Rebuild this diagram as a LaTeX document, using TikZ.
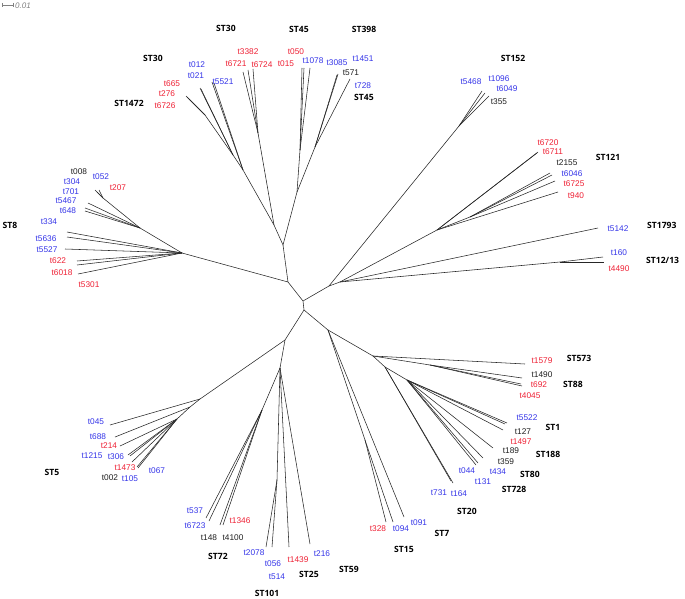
\documentclass[tikz,border=0pt]{standalone}
\usepackage{fontspec}
\setmainfont{Liberation Sans}
\newfontfamily\stfont{Open Sans}
\usepackage{tikz}
\usetikzlibrary{positioning,calc}
\definecolor{tipred}{RGB}{238,32,52}
\definecolor{tipblue}{RGB}{52,52,232}
\definecolor{tipblack}{RGB}{30,30,30}

\begin{document}
\begin{tikzpicture}[x=1pt, y=-1pt,
    branch/.style={draw=black!85, line width=0.55pt},
    tip/.style={inner sep=0pt, font=\fontsize{8.3}{9}\selectfont},
    redtip/.style={tip, text=tipred},
    bluetip/.style={tip, text=tipblue},
    blacktip/.style={tip, text=tipblack},
    st/.style={inner sep=0pt, font=\stfont\bfseries\fontsize{8.6}{9}\selectfont}]

\useasboundingbox (0,0) rectangle (685,599);

% scale bar
\coordinate (sb1) at (2,5);
\coordinate (sb2) at (13,5);
\draw[gray, line width=0.5pt] (sb1) -- (sb2);
\draw[gray, line width=0.5pt] ($(sb1)+(0,-2)$) -- ($(sb1)+(0,2)$);
\draw[gray, line width=0.5pt] ($(sb2)+(0,-2)$) -- ($(sb2)+(0,2)$);
\node[tip, text=gray, font=\itshape\fontsize{8}{9}\selectfont, anchor=west] (sbl) at (15,6) {0.01};

% internal nodes
\coordinate (c0) at (283,245);
\coordinate (c1) at (288,282);
\coordinate (c2) at (303,301);
\coordinate (c3) at (304,310);
\coordinate (jL) at (274,225);
\coordinate (jR) at (297,192);
\coordinate (j30) at (258,133);
\coordinate (j1472) at (243,170);
\coordinate (j1472b) at (233,155);
\coordinate (j1472c) at (205,115);
\coordinate (j45) at (300,150);
\coordinate (j398) at (315,147);
\coordinate (j8) at (182,253);
\coordinate (j8b) at (140,228);
\coordinate (j8c) at (103,198);
\coordinate (j152a) at (329,286);
\coordinate (j152) at (459,126);
\coordinate (j121) at (340,282);
\coordinate (j121a) at (437,230);
\coordinate (j121b) at (470,217);
\coordinate (j1213) at (560,262);
\coordinate (j15) at (328,330);
\coordinate (j15b) at (365,440);
\coordinate (j573) at (373,356);
\coordinate (j88) at (430,365);
\coordinate (j1) at (385,367);
\coordinate (j1b) at (407,380);
\coordinate (j5top) at (285,340);
\coordinate (j5) at (200,399);
\coordinate (j5b) at (190,407);
\coordinate (j5c) at (177,419);
\coordinate (j72) at (280,368);
\coordinate (j72a) at (262,410);
\coordinate (j101) at (277,480);

% backbone
\draw[branch] (jL) -- (c0) -- (jR);
\draw[branch] (j8) -- (c1) -- (c0);
\draw[branch] (c1) -- (c2) -- (c3);
\draw[branch] (c2) -- (j152a) -- (j121);
\draw[branch] (j152a) -- (j152);
\draw[branch] (c3) -- (j15) -- (j573) -- (j1) -- (j1b);
\draw[branch] (c3) -- (j5top) -- (j5);
\draw[branch] (j5top) -- (j72);
\draw[branch] (jL) -- (j30);
\draw[branch] (jL) -- (j1472) -- (j1472b) -- (j1472c);
\draw[branch] (jR) -- (j45);
\draw[branch] (jR) -- (j398);
\draw[branch] (j8) -- (j8b) -- (j8c);
\draw[branch] (j121) -- (j121a) -- (j121b);
\draw[branch] (j121) -- (j1213);
\draw[branch] (j573) -- (j88);
\draw[branch] (j15) -- (j15b);
\draw[branch] (j5) -- (j5b) -- (j5c);
\draw[branch] (j72) -- (j72a);
\draw[branch] (j72) -- (j101);

% leaves
\foreach \n/\x/\y/\j in {a1/243/72/j30, a2/248/70/j30, a3/253/69/j30,
    b1/212/82/j1472, b2/214/83/j1472,
    d1/200/88/j1472b, d2/201/89/j1472b,
    e1/186/96/j1472c, e2/187/97/j1472c, e3/189/99/j1472c,
    f1/302/68/j45, f2/304/68/j45, f3/310/68/j45,
    g1/337/75/j398, g2/338/74/j398, g3/350/79/j398,
    h1/482/91/j152, h2/485/93/j152, h3/489/96/j152,
    i1/537/153/j121a, i2/538/152/j121a, i3/550/173/j121b, i4/552/175/j121b,
    i5/555/181/j121b, i6/558/192/j121a,
    k1/598/228/j121, k2/603/257/j1213, k3/604/262/j1213,
    m1/67/232/j8, m2/67/237/j8, m3/65/249/j8, m4/77/261/j8, m5/77/265/j8, m6/78/274/j8,
    m7/88/203/j8b, m8/85/208/j8b, m9/85/211/j8b,
    m10/95/190/j8c, m11/97/192/j8c, m12/99/190/j8c,
    n1/525/364/j573, n2/522/378/j88, n3/521/384/j88, n4/522/386/j88,
    p1/507/423/j1b, p2/505/424/j1b, p3/503/430/j1b, p4/493/448/j1b,
    p5/483/458/j1b, p6/478/463/j1b, p7/476/465/j1b,
    q1/453/483/j1, q2/451/481/j1,
    r1/386/522/j15b, r2/393/522/j15b, r3/404/517/j15,
    s1/110/425/j5, s2/115/437/j5b, s3/120/446/j5c, s4/128/455/j5c, s5/130/456/j5c,
    s6/132/462/j5c, s7/137/467/j5c, s8/138/468/j5c,
    u1/206/518/j72a, u2/209/521/j72a, u3/220/525/j72a, u4/223/525/j72a,
    v1/266/547/j101, v2/272/547/j101,
    w1/289/547/j72, w2/310/544/j72}
{
  \coordinate (\n) at (\x,\y);
  \draw[branch] (\j) -- (\n);
}

% tip labels
\node[redtip] (t6721) at (236,64) {t6721};
\node[redtip] (t3382) at (248,52) {t3382};
\node[redtip] (t6724) at (262,65) {t6724};
\node[bluetip] (t5521) at (223,82) {t5521};
\node[bluetip] (t012) at (197,65) {t012};
\node[bluetip] (t021) at (196,76) {t021};
\node[redtip] (t665) at (172,84) {t665};
\node[redtip] (t276) at (167,94) {t276};
\node[redtip] (t6726) at (165,106) {t6726};
\node[redtip] (t050) at (296,52) {t050};
\node[redtip] (t015) at (286,64) {t015};
\node[bluetip] (t1078) at (313,61) {t1078};
\node[bluetip] (t3085) at (337,63) {t3085};
\node[bluetip] (t1451) at (363,59) {t1451};
\node[blacktip] (t571) at (351,73) {t571};
\node[bluetip] (t728) at (363,86) {t728};
\node[bluetip] (t5468) at (471,82) {t5468};
\node[bluetip] (t1096) at (499,79) {t1096};
\node[bluetip] (t6049) at (507,89) {t6049};
\node[blacktip] (t355) at (499,102) {t355};
\node[redtip] (t6720) at (548,143) {t6720};
\node[redtip] (t6711) at (553,152) {t6711};
\node[blacktip] (t2155) at (567,163) {t2155};
\node[bluetip] (t6046) at (572,174) {t6046};
\node[redtip] (t6725) at (574,184) {t6725};
\node[redtip] (t940) at (576,196) {t940};
\node[bluetip] (t5142) at (618,229) {t5142};
\node[bluetip] (t160) at (619,253) {t160};
\node[redtip] (t4490) at (619,269) {t4490};
\node[blacktip] (t008) at (79,172) {t008};
\node[bluetip] (t052) at (101,177) {t052};
\node[redtip] (t207) at (118,188) {t207};
\node[bluetip] (t304) at (72,182) {t304};
\node[bluetip] (t701) at (71,192) {t701};
\node[bluetip] (t5467) at (66,201) {t5467};
\node[bluetip] (t648) at (68,211) {t648};
\node[bluetip] (t334) at (49,222) {t334};
\node[bluetip] (t5636) at (46,239) {t5636};
\node[bluetip] (t5527) at (47,250) {t5527};
\node[redtip] (t622) at (58,261) {t622};
\node[redtip] (t6018) at (62,273) {t6018};
\node[redtip] (t5301) at (89,285) {t5301};
\node[redtip] (t1579) at (542,361) {t1579};
\node[blacktip] (t1490) at (542,375) {t1490};
\node[redtip] (t692) at (539,385) {t692};
\node[redtip] (t4045) at (530,396) {t4045};
\node[bluetip] (t5522) at (527,418) {t5522};
\node[blacktip] (t127) at (523,432) {t127};
\node[redtip] (t1497) at (521,442) {t1497};
\node[blacktip] (t189) at (511,451) {t189};
\node[blacktip] (t359) at (506,462) {t359};
\node[bluetip] (t434) at (498,472) {t434};
\node[bluetip] (t044) at (467,471) {t044};
\node[bluetip] (t131) at (483,482) {t131};
\node[bluetip] (t731) at (439,493) {t731};
\node[bluetip] (t164) at (459,494) {t164};
\node[redtip] (t328) at (378,529) {t328};
\node[bluetip] (t094) at (401,529) {t094};
\node[bluetip] (t091) at (419,523) {t091};
\node[bluetip] (t045) at (96,422) {t045};
\node[bluetip] (t688) at (98,437) {t688};
\node[redtip] (t214) at (109,446) {t214};
\node[bluetip] (t1215) at (92,456) {t1215};
\node[bluetip] (t306) at (116,457) {t306};
\node[redtip] (t1473) at (125,468) {t1473};
\node[blacktip] (t002) at (110,478) {t002};
\node[bluetip] (t105) at (130,479) {t105};
\node[bluetip] (t067) at (157,471) {t067};
\node[bluetip] (t537) at (195,511) {t537};
\node[bluetip] (t6723) at (195,526) {t6723};
\node[redtip] (t1346) at (240,521) {t1346};
\node[blacktip] (t148) at (209,538) {t148};
\node[blacktip] (t4100) at (233,538) {t4100};
\node[bluetip] (t2078) at (254,553) {t2078};
\node[bluetip] (t056) at (273,564) {t056};
\node[bluetip] (t514) at (277,577) {t514};
\node[redtip] (t1439) at (298,560) {t1439};
\node[bluetip] (t216) at (322,554) {t216};

% sequence types
\node[st] (st30a) at (226,28) {ST30};
\node[st] (st45a) at (299,29) {ST45};
\node[st] (st398) at (364,29) {ST398};
\node[st] (st30b) at (153,58) {ST30};
\node[st] (st1472) at (129,103) {ST1472};
\node[st] (st45b) at (364,97) {ST45};
\node[st] (st152) at (513,58) {ST152};
\node[st] (st121) at (608,157) {ST121};
\node[st, anchor=west] (st1793) at (647,225) {ST1793};
\node[st, anchor=west] (st1213) at (646,260) {ST12/13};
\node[st] (st8) at (10,225) {ST8};
\node[st] (st573) at (579,358) {ST573};
\node[st] (st88) at (573,384) {ST88};
\node[st] (st1) at (553,427) {ST1};
\node[st] (st188) at (548,454) {ST188};
\node[st] (st80) at (530,474) {ST80};
\node[st] (st728) at (514,489) {ST728};
\node[st] (st20) at (467,511) {ST20};
\node[st] (st7) at (442,533) {ST7};
\node[st] (st15) at (404,549) {ST15};
\node[st] (st59) at (349,569) {ST59};
\node[st] (st25) at (309,574) {ST25};
\node[st] (st101) at (267,593) {ST101};
\node[st] (st72) at (218,556) {ST72};
\node[st] (st5) at (52,472) {ST5};

\end{tikzpicture}
\end{document}
